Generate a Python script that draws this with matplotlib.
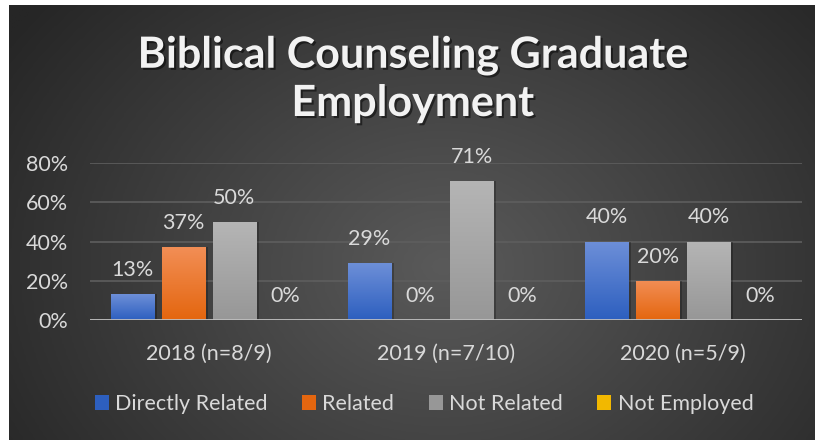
import numpy as np
import matplotlib.pyplot as plt
import matplotlib.patheffects as pe
from matplotlib.colors import LinearSegmentedColormap

plt.rcParams['font.family'] = ['Lato', 'DejaVu Sans']

# Data
years = ["2018 (n=8/9)", "2019 (n=7/10)", "2020 (n=5/9)"]
series = ["Directly Related", "Related", "Not Related", "Not Employed"]
directly_related = [0.13, 0.29, 0.40]
related = [0.37, 0.00, 0.20]
not_related = [0.50, 0.71, 0.40]
not_employed = [0.00, 0.00, 0.00]
values = [directly_related, related, not_related, not_employed]

# (top colour, bottom colour) for each series
colors = [("#6d8fd8", "#2d5fbf"), ("#f28e55", "#e4660f"),
          ("#b5b5b5", "#979797"), ("#ffc933", "#f2b800")]
y_ticks = [0, 0.2, 0.4, 0.6, 0.8]

FS = 15.5
W, H = 817, 440
fig = plt.figure(figsize=(W / 100, H / 100), dpi=100, facecolor="white")

# dark radial background
bg = fig.add_axes([9 / W, 0, (815 - 9) / W, 1 - 5 / H])
yy, xx = np.mgrid[0:200, 0:400]
r = np.sqrt(((xx - 215) / 260) ** 2 + ((yy - 120) / 190) ** 2)
r = np.clip(r, 0, 1)
bg_cmap = LinearSegmentedColormap.from_list("bg", ["#5a5a5a", "#262626"])
bg.imshow(r, cmap=bg_cmap, aspect="auto", interpolation="bilinear")
bg.axis("off")

ax = fig.add_axes([90 / W, 1 - 320 / H, (802 - 90) / W, (320 - 163) / H])
ax.set_facecolor("none")

x = np.arange(len(years))
step = 0.215
width = 0.182
for i, (name, vals) in enumerate(zip(series, values)):
    pos = x + (i - 1.5) * step
    # soft shadow
    ax.bar(pos + 0.012, vals, width, bottom=0, color="black", alpha=0.25, zorder=2)
    bars = ax.bar(pos, vals, width, color=colors[i][1], label=name, zorder=3)
    cmap = LinearSegmentedColormap.from_list(name, [colors[i][1], colors[i][0]])
    grad = np.linspace(0, 1, 100).reshape(-1, 1)
    for b, v in zip(bars, vals):
        if v <= 0:
            continue
        im = ax.imshow(grad, cmap=cmap, origin="lower", aspect="auto",
                       extent=(b.get_x(), b.get_x() + width, 0, v), zorder=3.5)
        im.set_clip_path(b)
        ax.annotate(f"{v:.0%}", (b.get_x() + width / 2, v), xytext=(0, 13),
                    textcoords="offset points", ha="center", va="baseline",
                    color="#d9d9d9", fontsize=FS)
    for p, v in zip(pos, vals):
        if v <= 0:
            ax.annotate("0%", (p, 0), xytext=(0, 13), textcoords="offset points",
                        ha="center", va="baseline", color="#d9d9d9", fontsize=FS)

ax.set_xlim(-0.5, len(years) - 0.5)
ax.set_ylim(0, 0.8)
ax.set_yticks(y_ticks)
ax.set_yticklabels([f"{t:.0%}" for t in y_ticks])
ax.set_xticks(x)
ax.set_xticklabels(years)
ax.tick_params(length=0, colors="#d9d9d9", labelsize=FS)
ax.tick_params(axis="x", pad=17)
ax.tick_params(axis="y", pad=16)
ax.grid(axis="y", color="#5e5e5e", linewidth=1.2, zorder=0)
ax.axhline(0, color="#bfbfbf", linewidth=2, zorder=4)
for s in ax.spines.values():
    s.set_visible(False)

title_fx = [pe.withSimplePatchShadow(offset=(1.5, -1.5), shadow_rgbFace="black", alpha=0.5)]
fig.text(0.505, 1 - 55 / H, "Biblical Counseling Graduate", ha="center", va="center",
         fontsize=31, fontweight="bold", color="#f2f2f2", path_effects=title_fx)
fig.text(0.505, 1 - 103 / H, "Employment", ha="center", va="center",
         fontsize=31, fontweight="bold", color="#f2f2f2", path_effects=title_fx)

handles, labels = ax.get_legend_handles_labels()
fig.legend(handles, labels, loc="center", bbox_to_anchor=(0.519, 1 - 404 / H), ncol=4,
           frameon=False, fontsize=FS, labelcolor="#d9d9d9", handlelength=0.65,
           handleheight=0.65, handletextpad=0.3, columnspacing=1.6)

fig.savefig("out.png", dpi=100, facecolor="white")
